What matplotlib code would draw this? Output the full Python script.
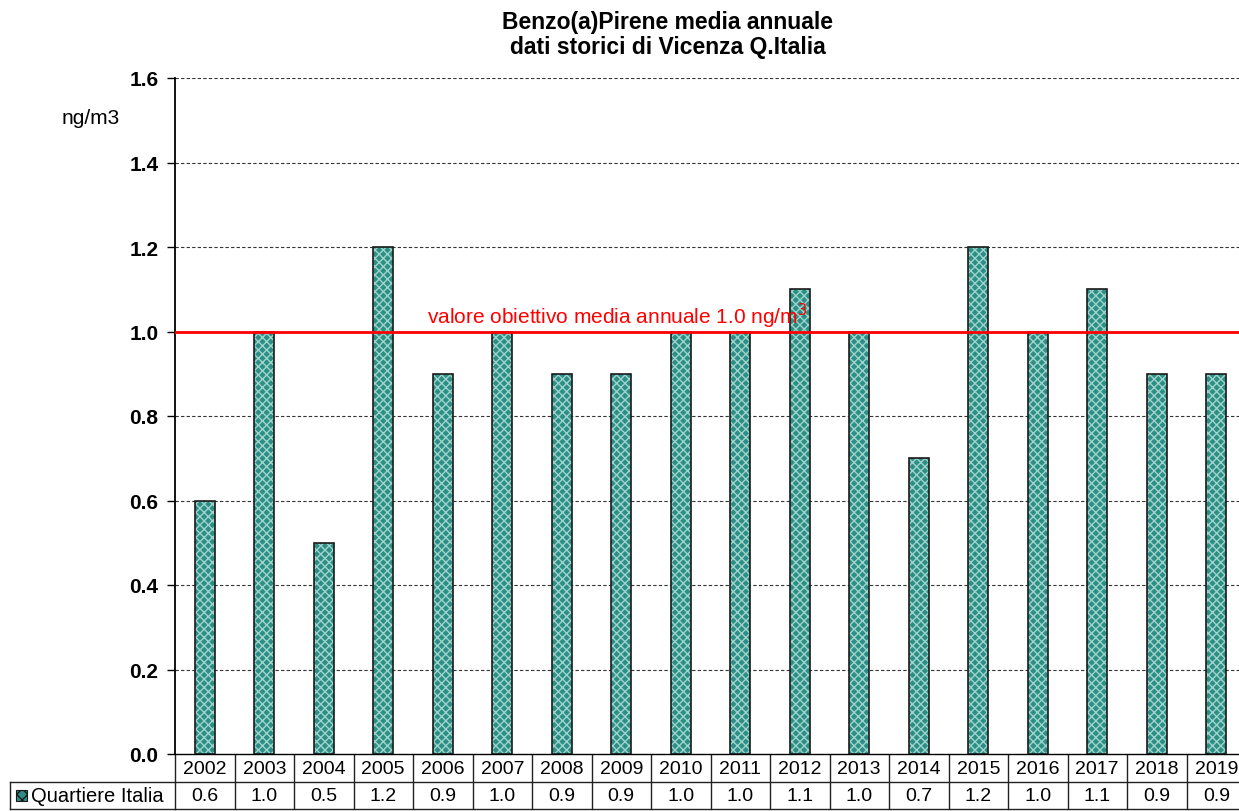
import matplotlib
matplotlib.use("Agg")
import matplotlib.pyplot as plt
from matplotlib.transforms import blended_transform_factory
from matplotlib.patches import Rectangle

plt.rcParams['font.family'] = ['Liberation Sans', 'DejaVu Sans']

years = ['2002', '2003', '2004', '2005', '2006', '2007', '2008', '2009', '2010',
         '2011', '2012', '2013', '2014', '2015', '2016', '2017', '2018', '2019']
values = [0.6, 1.0, 0.5, 1.2, 0.9, 1.0, 0.9, 0.9, 1.0,
          1.0, 1.1, 1.0, 0.7, 1.2, 1.0, 1.1, 0.9, 0.9]
series_name = 'Quartiere Italia'
target = 1.0
target_label = 'valore obiettivo media annuale 1.0 ng/m$^3$'
yticks = [0.0, 0.2, 0.4, 0.6, 0.8, 1.0, 1.2, 1.4, 1.6]

W, H = 1239, 812
fig = plt.figure(figsize=(W / 100, H / 100), dpi=100)
left, right, top, bottom = 175, 1246, 79, 755
ax = fig.add_axes([left / W, (H - bottom) / H, (right - left) / W, (bottom - top) / H])

bar_face = '#2b8f85'
x = list(range(len(years)))
ax.bar(x, values, width=0.34, color=bar_face, edgecolor='#9fd3cc', hatch='xxxx',
       linewidth=0, zorder=3)
ax.bar(x, values, width=0.34, fill=False, edgecolor='#1a1a1a', linewidth=1.2, zorder=4)

ax.set_xlim(-0.5, len(years) - 0.5)
ax.set_ylim(0, 1.6)
ax.set_yticks(yticks)
ax.set_yticklabels([f'{v:.1f}' for v in yticks], fontsize=15, fontweight='bold')
ax.set_xticks([])
for v in yticks[1:]:
    ax.axhline(v, color='#333333', linestyle=(0, (3, 2)), linewidth=0.8, zorder=1)
ax.axhline(target, color='#ff0000', linewidth=2, zorder=5)
ax.text((427 - left) / 59.5 - 0.5, target + 0.004, target_label, color='#ff0000',
        fontsize=15, ha='left', va='bottom', zorder=6)

for s in ['top', 'right']:
    ax.spines[s].set_visible(False)
ax.spines['left'].set_linewidth(1.3)
ax.spines['bottom'].set_linewidth(1.0)
ax.tick_params(axis='y', direction='out', length=6, width=1, pad=6)

fig.text(668 / W, 1 - 35 / H, 'Benzo(a)Pirene media annuale\ndati storici di Vicenza Q.Italia',
         ha='center', va='center', fontsize=16.5, fontweight='bold', linespacing=1.12)
fig.text(91 / W, 1 - 118 / H, 'ng/m3', ha='center', va='center', fontsize=15)

# data table
trans = blended_transform_factory(ax.transData, fig.transFigure)
r0, r1, r2 = 1 - 756 / H, 1 - 783 / H, 1 - 810 / H
lc = dict(color='#222222', linewidth=1.0, clip_on=False, transform=trans)
n = len(years)
ax.plot([-0.5, n - 0.5], [r1, r1], **lc)
ax.plot([-0.5, n - 0.5], [r2, r2], **lc)
for i in range(n + 1):
    ax.plot([i - 0.5, i - 0.5], [r0, r2], **lc)
for i, (yr, v) in enumerate(zip(years, values)):
    ax.text(i, (r0 + r1) / 2, yr, ha='center', va='center', fontsize=14, transform=trans,
            clip_on=False)
    ax.text(i, (r1 + r2) / 2, f'{v:.1f}', ha='center', va='center', fontsize=14,
            transform=trans, clip_on=False)
# legend cell
for xs, ys in [([10, left], [r1, r1]), ([10, left], [r2, r2]), ([10, 10], [r1, r2])]:
    fig.lines.append(plt.Line2D([xs[0] / W, xs[1] / W], ys, color='#222222', lw=1.0,
                                transform=fig.transFigure))
fig.patches.append(Rectangle((16 / W, 1 - 802 / H), 11 / W, 11 / H, facecolor=bar_face,
                             edgecolor='#1a1a1a', hatch='xxx', lw=0.8,
                             transform=fig.transFigure))
fig.text(31 / W, (r1 + r2) / 2, series_name, ha='left', va='center', fontsize=14.5)

fig.savefig('out.png', dpi=100)
